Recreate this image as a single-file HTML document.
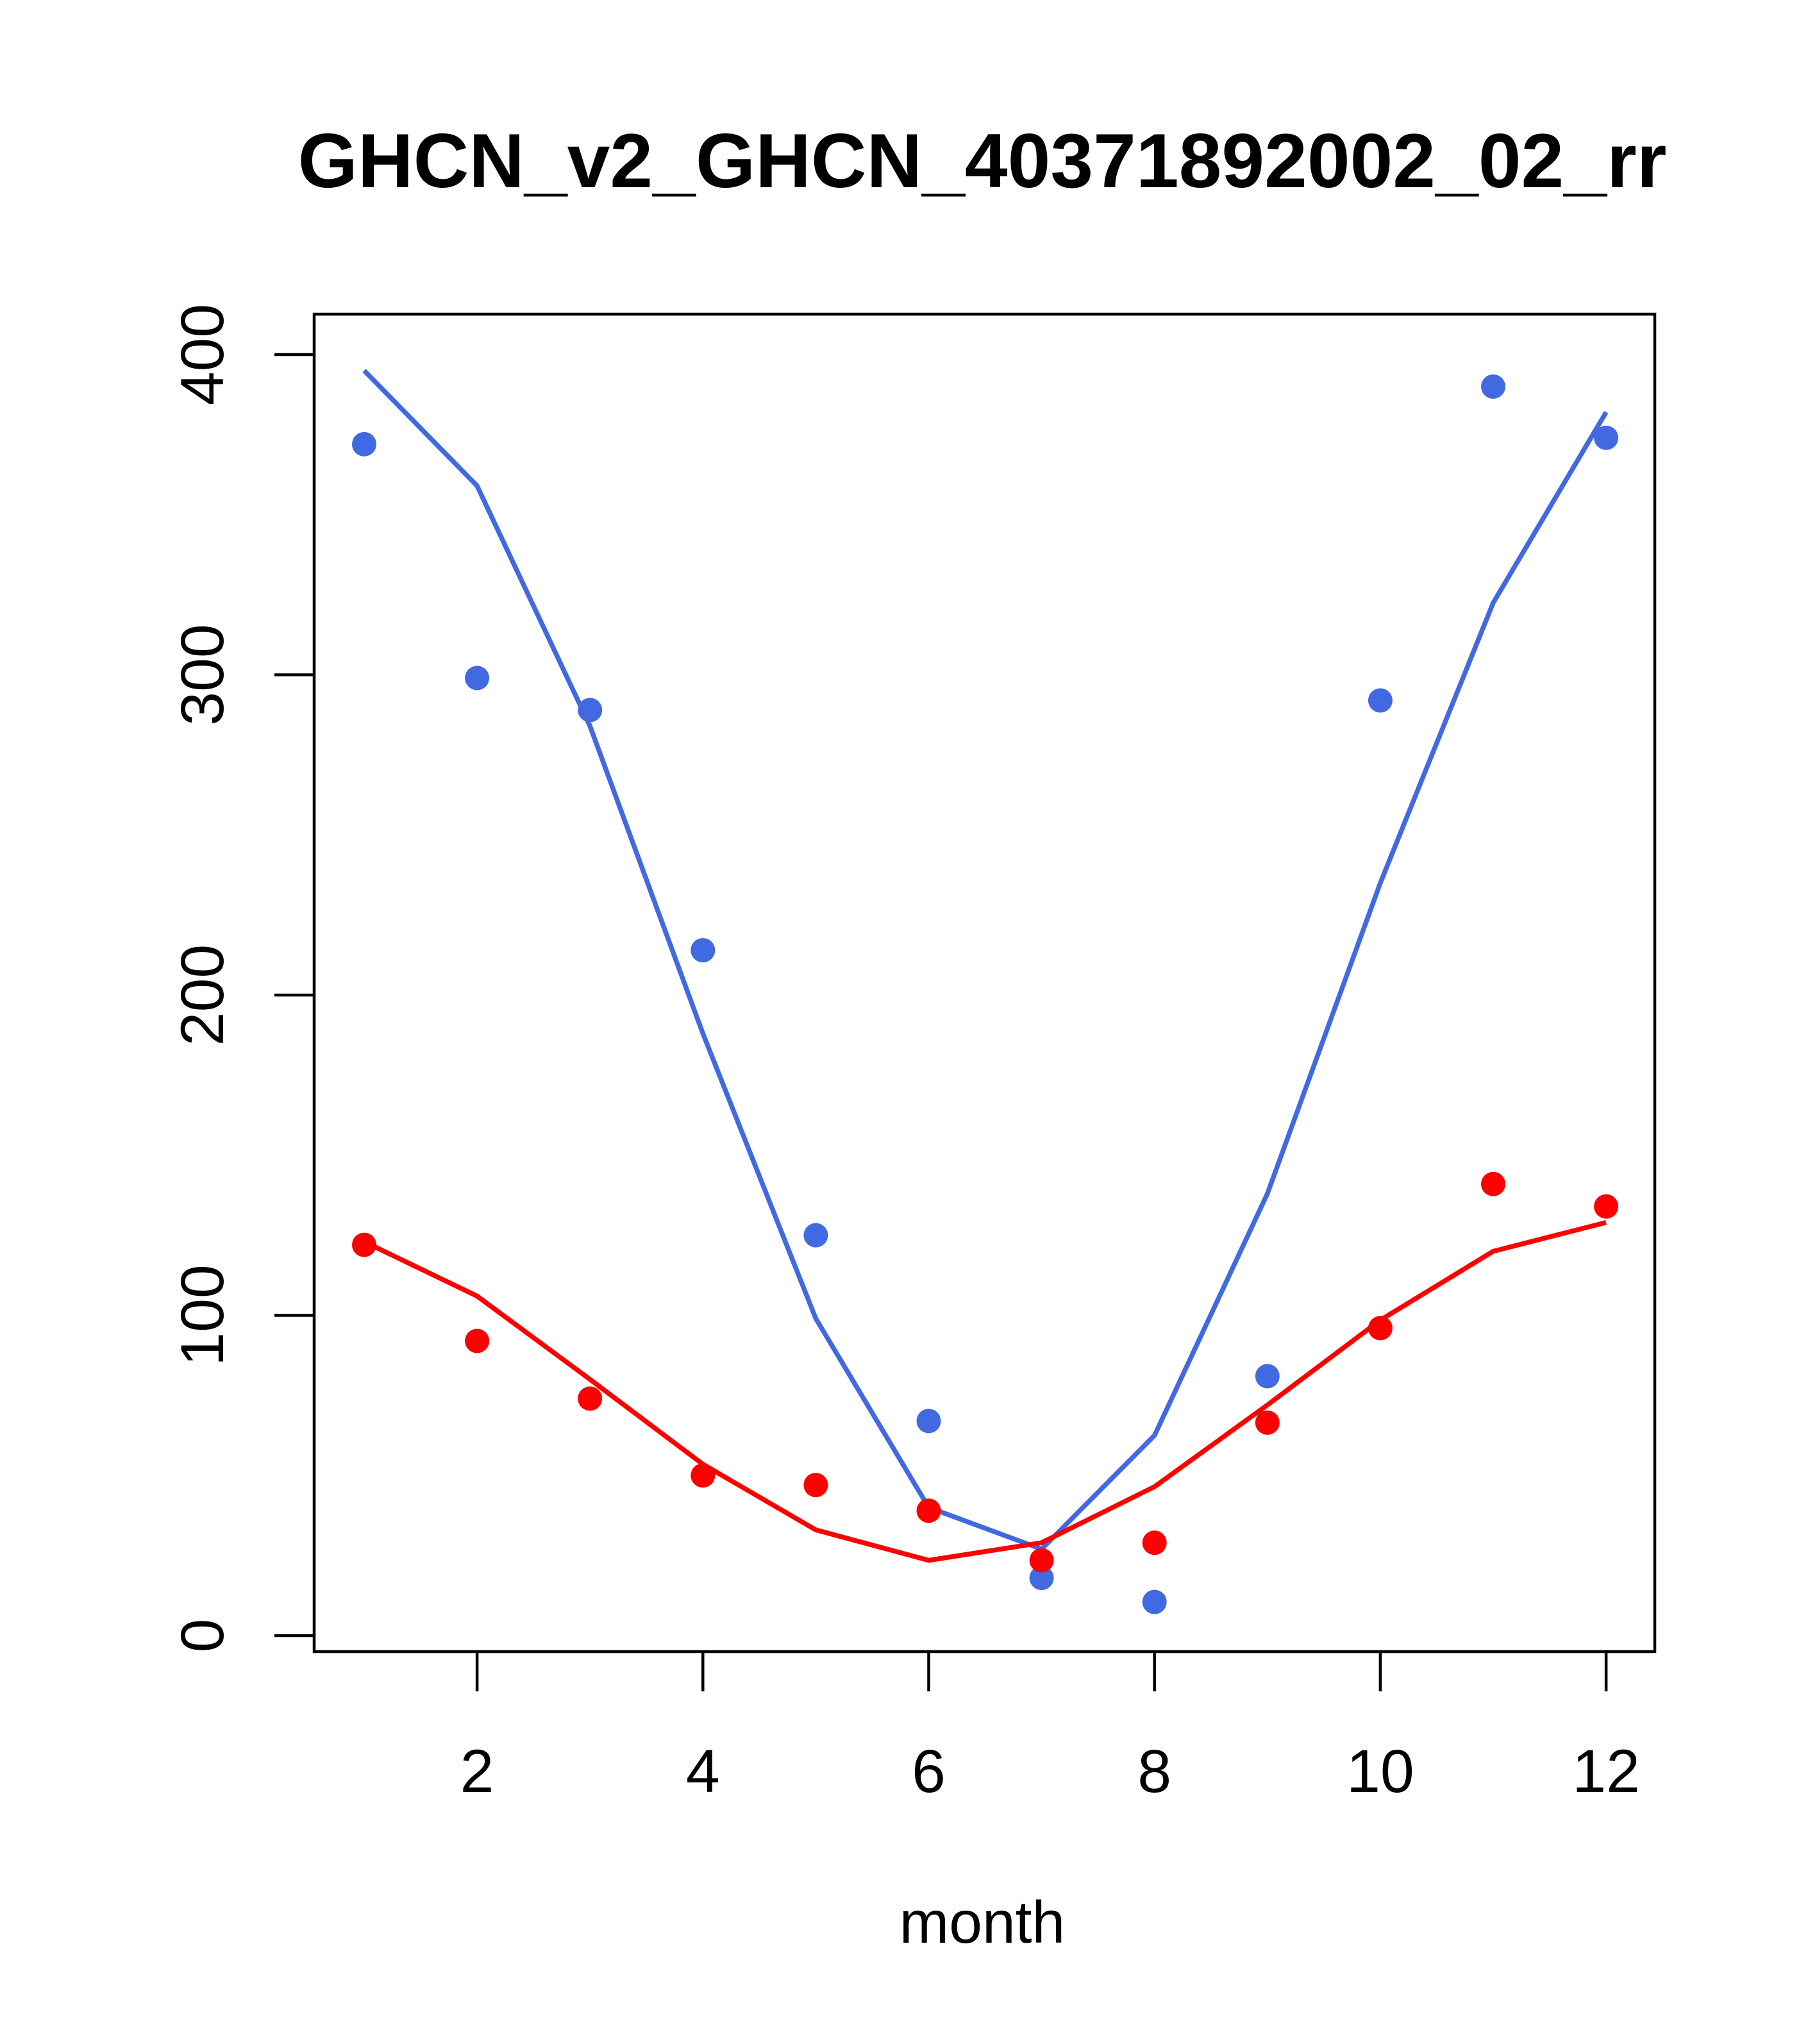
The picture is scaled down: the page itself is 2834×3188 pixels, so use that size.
<!DOCTYPE html>
<html><head><meta charset="utf-8"><style>
html,body{margin:0;padding:0;background:#fff;}
svg{display:block;}
text{font-family:"Liberation Sans",Arial,sans-serif;fill:#000;}
</style></head><body>
<svg id="chart" width="2834" height="3188" viewBox="0 0 2834 3188" xmlns="http://www.w3.org/2000/svg">
<text x="1532" y="292" font-size="120" font-weight="bold" text-anchor="middle">GHCN_v2_GHCN_40371892002_02_rr</text>
<rect x="490" y="490" width="2091" height="2086" fill="none" stroke="#000" stroke-width="4.5"/>
<g id="axes"></g>
<g id="series"></g>
<text x="1532" y="3030" font-size="93" text-anchor="middle">month</text>
</svg>
<script>
const months = [1,2,3,4,5,6,7,8,9,10,11,12];
const bluePoints = [372,299,289,214,125,67,18,10.5,81,292,390,374];
const blueLine = [395,359,284,188,99,40,27,62.5,138,235,322.5,382];
const redPoints = [122,92,74,50,47,39,23.5,29,66.5,96,141,134];
const redLine = [123,106,80,53.5,33,23.5,29,46.5,72,98.5,120,129];
const xTicks = [2,4,6,8,10,12];
const yTicks = [0,100,200,300,400];

const NS = "http://www.w3.org/2000/svg";
function xs(m){ return 568 + (m-1)*176.1; }
function ys(v){ return 2551 - v*4.995; }
const axes = document.getElementById('axes');
const series = document.getElementById('series');
function mk(tag, attrs, parent){ const e=document.createElementNS(NS,tag); for(const k in attrs) e.setAttribute(k,attrs[k]); parent.appendChild(e); return e; }

xTicks.forEach(t=>{
  const l = mk('line',{x1:xs(t),x2:xs(t),y1:2576,y2:2638,stroke:'#000','stroke-width':4.5},axes);
  
  
  const tx = mk('text',{x:xs(t),y:2795,'font-size':95,'text-anchor':'middle'},axes);
  tx.textContent = t;
  
  
});
yTicks.forEach(t=>{
  const l = mk('line',{x1:428,x2:490,y1:ys(t),y2:ys(t),stroke:'#000','stroke-width':4.5},axes);
  
  
  const tx = mk('text',{x:0,y:0,'font-size':95,'text-anchor':'middle',transform:`translate(348,${ys(t)}) rotate(-90)`},axes);
  tx.textContent = t;
  
  
});

function drawLine(vals,color,name){
  const p = mk('polyline',{points:vals.map((v,i)=>xs(months[i])+','+ys(v)).join(' '),fill:'none',stroke:color,'stroke-width':7.5},series);
  
  
}
function drawPts(vals,color,name){
  vals.forEach((v,i)=>{
    const c = mk('circle',{cx:xs(months[i]),cy:ys(v),r:19,fill:color},series);
    
    
  });
}
drawLine(blueLine,'#4169E1','blue-line');
drawLine(redLine,'#FF0000','red-line');
drawPts(bluePoints,'#4169E1','blue-point');
drawPts(redPoints,'#FF0000','red-point');
</script>
</body></html>
